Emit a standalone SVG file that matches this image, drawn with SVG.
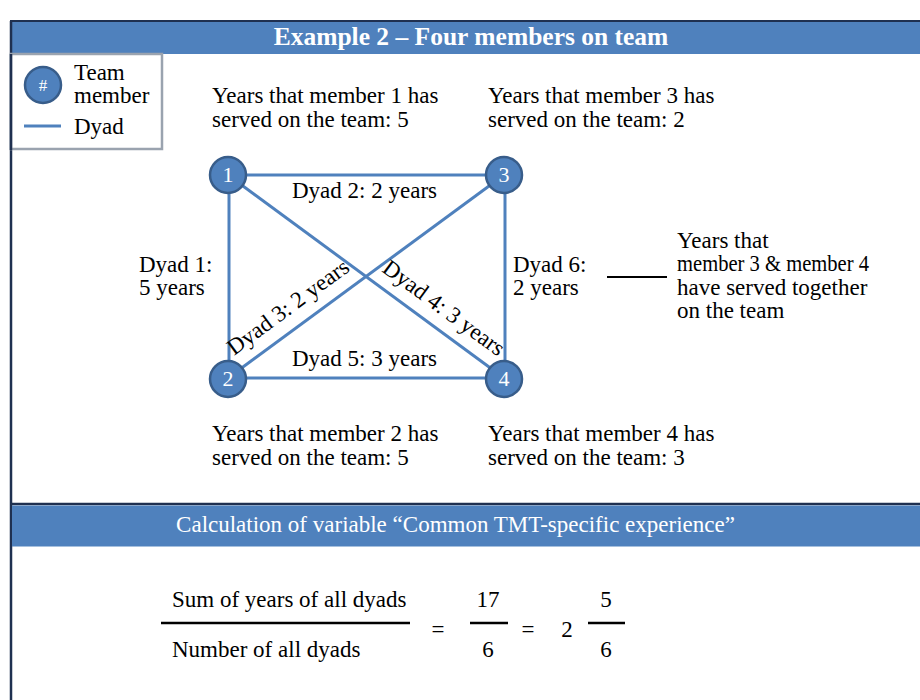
<svg xmlns="http://www.w3.org/2000/svg" width="920" height="700" viewBox="0 0 920 700">
<style>
text{font-family:"Liberation Serif","Times New Roman",serif;fill:#000;font-size:23px}
.w{fill:#fff}
.h{font-weight:bold;font-size:25.5px}
.n{fill:#fff;font-size:22px;text-anchor:middle}
.c{fill:#4F81BD;stroke:#385D8A;stroke-width:2.5}
.e{stroke:#4F81BD;stroke-width:3;fill:none}
.k{stroke:#000;stroke-width:2.5}
.m{text-anchor:middle}
</style>
<rect x="0" y="0" width="920" height="700" fill="#fff"/>
<!-- frame -->
<rect x="10" y="21" width="920" height="33" fill="#4F81BD"/>
<line x1="10" y1="21" x2="920" y2="21" stroke="#1F3050" stroke-width="2"/>
<line x1="11" y1="21" x2="11" y2="700" stroke="#1F3050" stroke-width="2.5"/>
<text class="w h m" x="471" y="45">Example 2 – Four members on team</text>
<!-- legend -->
<g id="legend">
<rect x="11" y="54" width="151" height="95" fill="#fff" stroke="#9AA3AF" stroke-width="2.5"/>
<line x1="11" y1="54" x2="11" y2="150" stroke="#1F3050" stroke-width="2.5"/>
<circle class="c" cx="43" cy="85" r="18"/>
<text class="n" x="43" y="91" style="font-size:17px">#</text>
<text x="74" y="80">Team</text>
<text x="74" y="103">member</text>
<line class="e" x1="24" y1="126" x2="61" y2="126"/>
<text x="74" y="134">Dyad</text>
</g>
<!-- connectors -->
<g id="connectors">
<line class="e" x1="228" y1="175" x2="504" y2="175"/>
<line class="e" x1="229" y1="175" x2="229" y2="378"/>
<line class="e" x1="505" y1="175" x2="505" y2="378"/>
<line class="e" x1="228" y1="378" x2="504" y2="378"/>
<line class="e" x1="228" y1="175" x2="504" y2="378"/>
<line class="e" x1="504" y1="175" x2="228" y2="378"/>
</g>
<!-- dyad labels -->
<g id="dyad-labels">
<text x="292" y="198">Dyad 2: 2 years</text>
<text x="292" y="366">Dyad 5: 3 years</text>
<text x="139" y="272">Dyad 1:</text>
<text x="139" y="295">5 years</text>
<text x="513" y="272">Dyad 6:</text>
<text x="513" y="295">2 years</text>
<text transform="translate(234,356) rotate(-36.3)">Dyad 3: 2 years</text>
<text transform="translate(381,271) rotate(36.3)">Dyad 4: 3 years</text>
</g>
<!-- nodes -->
<g id="node1"><circle class="c" cx="228" cy="175" r="18"/><text class="n" x="228" y="182">1</text></g>
<g id="node2"><circle class="c" cx="228" cy="379" r="18"/><text class="n" x="228" y="386">2</text></g>
<g id="node3"><circle class="c" cx="504" cy="175" r="18"/><text class="n" x="504" y="182">3</text></g>
<g id="node4"><circle class="c" cx="504" cy="379" r="18"/><text class="n" x="504" y="386">4</text></g>
<!-- member notes -->
<g id="notes">
<text x="212" y="103">Years that member 1 has</text>
<text x="212" y="127">served on the team: 5</text>
<text x="488" y="103">Years that member 3 has</text>
<text x="488" y="127">served on the team: 2</text>
<text x="212" y="441">Years that member 2 has</text>
<text x="212" y="465">served on the team: 5</text>
<text x="488" y="441">Years that member 4 has</text>
<text x="488" y="465">served on the team: 3</text>
<line x1="607" y1="277" x2="667" y2="277" stroke="#000" stroke-width="2"/>
<text x="677" y="248">Years that</text>
<text x="677" y="271" textLength="192" lengthAdjust="spacingAndGlyphs">member 3 &amp; member 4</text>
<text x="677" y="295">have served together</text>
<text x="677" y="318">on the team</text>
</g>
<!-- calculation -->
<line x1="10" y1="504" x2="920" y2="504" stroke="#1F3050" stroke-width="2.5"/>
<rect x="12" y="505.5" width="908" height="41" fill="#4F81BD"/>
<text class="w m" x="455.5" y="532">Calculation of variable “Common TMT-specific experience”</text>
<g id="formula">
<text x="172" y="607">Sum of years of all dyads</text>
<line class="k" x1="161" y1="623" x2="410" y2="623"/>
<text x="172" y="657">Number of all dyads</text>
<text class="m" x="438" y="637">=</text>
<text class="m" x="488" y="607">17</text>
<line class="k" x1="470" y1="623" x2="508" y2="623"/>
<text class="m" x="488" y="657">6</text>
<text class="m" x="528" y="637">=</text>
<text class="m" x="567" y="637">2</text>
<text class="m" x="606" y="607">5</text>
<line class="k" x1="588" y1="623" x2="625" y2="623"/>
<text class="m" x="606" y="657">6</text>
</g>
</svg>
